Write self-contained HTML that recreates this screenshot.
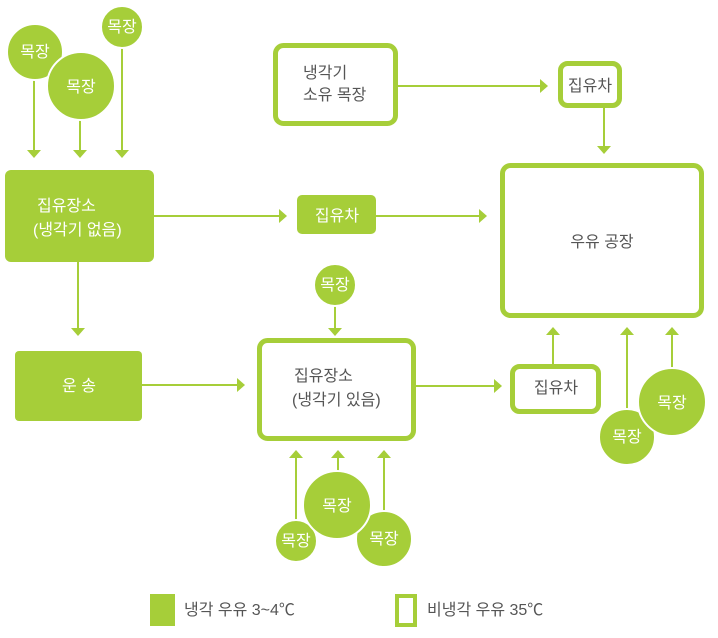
<!DOCTYPE html>
<html><head><meta charset="utf-8"><style>
html,body{margin:0;padding:0;background:#fff}
svg text{font-family:"Liberation Sans","Noto Sans CJK KR",sans-serif;font-size:16px}
</style></head><body>
<svg width="718" height="633" viewBox="0 0 718 633" xmlns="http://www.w3.org/2000/svg">
<g stroke="#a6ce39" stroke-width="2" fill="none">
<line x1="34" y1="70" x2="34" y2="150"/><line x1="80" y1="110" x2="80" y2="150"/><line x1="122" y1="40" x2="122" y2="150"/>
<line x1="154" y1="216" x2="280" y2="216"/><line x1="376" y1="216" x2="480" y2="216"/>
<line x1="397" y1="86" x2="541" y2="86"/><line x1="604" y1="107" x2="604" y2="146"/>
<line x1="78" y1="262" x2="78" y2="328"/><line x1="142" y1="385" x2="238" y2="385"/>
<line x1="335" y1="300" x2="335" y2="328"/><line x1="415" y1="386" x2="495" y2="386"/>
<line x1="553" y1="364" x2="553" y2="334"/><line x1="627" y1="420" x2="627" y2="334"/><line x1="672" y1="380" x2="672" y2="334"/>
<line x1="296" y1="525" x2="296" y2="457"/><line x1="338" y1="480" x2="338" y2="457"/><line x1="384" y1="520" x2="384" y2="457"/>
</g>
<g fill="#a6ce39">
<path d="M27,150 L41,150 L34,158Z"/><path d="M73,150 L87,150 L80,158Z"/><path d="M115,150 L129,150 L122,158Z"/>
<path d="M71,328 L85,328 L78,336Z"/><path d="M328,328 L342,328 L335,336Z"/><path d="M597,146 L611,146 L604,154Z"/>
<path d="M279,209 L279,223 L287,216Z"/><path d="M479,209 L479,223 L487,216Z"/><path d="M540,79 L540,93 L548,86Z"/>
<path d="M237,378 L237,392 L245,385Z"/><path d="M494,379 L494,393 L502,386Z"/>
<path d="M546,335 L560,335 L553,327Z"/><path d="M620,335 L634,335 L627,327Z"/><path d="M665,335 L679,335 L672,327Z"/>
<path d="M289,458 L303,458 L296,450Z"/><path d="M331,458 L345,458 L338,450Z"/><path d="M377,458 L391,458 L384,450Z"/>
<rect x="5" y="170" width="149" height="92" rx="6"/>
<rect x="297" y="195" width="79" height="39" rx="5"/>
<rect x="15" y="351" width="127" height="70" rx="4"/>
<rect x="150" y="594" width="25" height="32"/>
</g>
<g fill="#a6ce39" stroke="#fff" stroke-width="2">
<circle cx="35" cy="52" r="28"/><circle cx="81" cy="86" r="34"/><circle cx="122" cy="27" r="21"/>
<circle cx="335" cy="285" r="21"/>
<circle cx="627" cy="437" r="28"/><circle cx="672" cy="402" r="34"/>
<circle cx="296" cy="541" r="21"/><circle cx="384" cy="539" r="28"/><circle cx="337" cy="505" r="34"/>
</g>
<g fill="none" stroke="#a6ce39" stroke-width="5">
<rect x="275.5" y="45.5" width="120" height="78" rx="8"/>
<rect x="560.5" y="63.5" width="59" height="42" rx="7"/>
<rect x="502.5" y="165.5" width="199" height="150" rx="8"/>
<rect x="259.5" y="340.5" width="154" height="98" rx="8"/>
<rect x="512.5" y="366.5" width="86" height="45" rx="7"/>
<rect x="397" y="596" width="18" height="29" stroke-width="4"/>
</g>
<g fill="#fff" text-anchor="middle">
<text x="35" y="57">목장</text><text x="81" y="92">목장</text><text x="122" y="32">목장</text>
<text x="335" y="290">목장</text><text x="627" y="442">목장</text><text x="672" y="408">목장</text>
<text x="296" y="546">목장</text><text x="384" y="544">목장</text><text x="337" y="511">목장</text>
<text x="337" y="221">집유차</text>
<text x="79" y="391">운 송</text>
</g>
<g fill="#fff">
<text x="37" y="211">집유장소</text><text x="33" y="235">(냉각기 없음)</text>
</g>
<g fill="#555">
<text x="303" y="78">냉각기</text><text x="303" y="100">소유 목장</text>
<text x="590" y="91" text-anchor="middle">집유차</text>
<text x="602" y="247" text-anchor="middle">우유 공장</text>
<text x="294" y="381">집유장소</text><text x="292" y="405">(냉각기 있음)</text>
<text x="556" y="393" text-anchor="middle">집유차</text>
<text x="184" y="615">냉각 우유 3~4℃</text>
<text x="427" y="615">비냉각 우유 35℃</text>
</g>
</svg>
</body></html>
